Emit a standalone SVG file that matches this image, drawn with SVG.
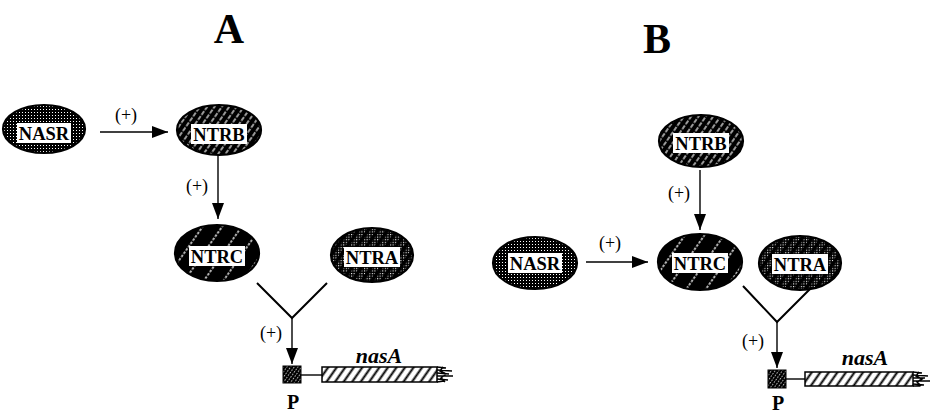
<svg xmlns="http://www.w3.org/2000/svg" width="932" height="415" viewBox="0 0 932 415">
  <defs>
    <style>
      .title { font-family: "Liberation Serif", "DejaVu Serif", serif; font-weight: bold; font-size: 42px; fill: #000; text-anchor: middle; }
      .lbl { font-family: "Liberation Serif", "DejaVu Serif", serif; font-weight: bold; font-size: 18.5px; fill: #000; text-anchor: middle; }
      .plus { font-family: "Liberation Serif", "DejaVu Serif", serif; font-size: 18px; fill: #000; text-anchor: middle; }
      .gene { font-family: "Liberation Serif", "DejaVu Serif", serif; font-weight: bold; font-style: italic; font-size: 22px; fill: #000; text-anchor: middle; }
      .prom { font-family: "Liberation Serif", "DejaVu Serif", serif; font-weight: bold; font-size: 20px; fill: #000; text-anchor: middle; }
      .edge { fill: none; stroke: #000; stroke-width: 1.4; }
      .arm { fill: none; stroke: #000; stroke-width: 2; }
      .rim { fill: none; stroke: #000; stroke-width: 2.2; }
      .tag { fill: #fff; }
    </style>
    <!-- fine white stipple on black -->
    <pattern id="stip" width="3" height="3" patternUnits="userSpaceOnUse">
      <rect width="3" height="3" fill="#000"/>
      <rect x="1" y="1" width="1" height="1" fill="#fff"/>
    </pattern>
    <!-- dense dashed white hatching on black -->
    <pattern id="hatchD" width="6" height="6" patternUnits="userSpaceOnUse" patternTransform="rotate(35)">
      <rect width="6" height="6" fill="#000"/>
      <line x1="3" y1="0" x2="3" y2="6" stroke="#fff" stroke-width="1.2" stroke-dasharray="2.5 1.5"/>
    </pattern>
    <!-- sparse dashed white hatching on black -->
    <pattern id="hatchS" width="16" height="8" patternUnits="userSpaceOnUse" patternTransform="rotate(35)">
      <rect width="16" height="8" fill="#000"/>
      <line x1="8" y1="0" x2="8" y2="8" stroke="#fff" stroke-width="1.4" stroke-dasharray="2.5 1.5"/>
    </pattern>
    <!-- checker stipple for the mixed fill -->
    <pattern id="chk" width="2.6" height="2.6" patternUnits="userSpaceOnUse">
      <rect width="2.6" height="2.6" fill="#000"/>
      <rect width="1.1" height="1.1" fill="#fff"/>
    </pattern>
    <!-- dark diagonal bands laid over the checker -->
    <pattern id="bands" width="8" height="8" patternUnits="userSpaceOnUse" patternTransform="rotate(35)">
      <rect x="0" y="0" width="3.5" height="8" fill="#000"/>
    </pattern>
    <!-- black hatching on white for the gene bar -->
    <pattern id="geneH" width="7" height="7" patternUnits="userSpaceOnUse" patternTransform="rotate(35)">
      <rect width="7" height="7" fill="#fff"/>
      <line x1="3.5" y1="0" x2="3.5" y2="7" stroke="#000" stroke-width="2"/>
    </pattern>
    <!-- promoter block -->
    <pattern id="promH" width="3" height="3" patternUnits="userSpaceOnUse" patternTransform="rotate(35)">
      <rect width="3" height="3" fill="#000"/>
      <rect x="1" y="0" width="0.8" height="1.5" fill="#fff"/>
    </pattern>
    <marker id="ah" viewBox="0 0 16 12" refX="16" refY="6" markerWidth="16" markerHeight="12" markerUnits="userSpaceOnUse" orient="auto">
      <path d="M0,0 L16,6 L0,12 z" fill="#000"/>
    </marker>
  </defs>

  <rect width="932" height="415" fill="#fff"/>

  <text class="title" x="229" y="43">A</text>
  <text class="title" x="657" y="53">B</text>

  <!-- Panel A nodes -->
  <g id="a-nasr">
    <ellipse cx="44" cy="129" rx="41" ry="24" fill="url(#stip)"/>
    <ellipse class="rim" cx="44" cy="129" rx="41" ry="24"/>
    <rect class="tag" x="17" y="123" width="54" height="20"/>
    <text class="lbl" x="44" y="139.5">NASR</text>
  </g>
  <g id="a-ntrb">
    <ellipse cx="219" cy="130" rx="42" ry="25" fill="url(#hatchD)"/>
    <ellipse class="rim" cx="219" cy="130" rx="42" ry="25"/>
    <rect class="tag" x="191" y="124" width="56" height="20"/>
    <text class="lbl" x="219" y="140.5">NTRB</text>
  </g>
  <g id="a-ntrc">
    <ellipse cx="217" cy="253" rx="42" ry="28" fill="url(#hatchS)"/>
    <ellipse class="rim" cx="217" cy="253" rx="42" ry="28"/>
    <rect class="tag" x="189" y="246" width="56" height="20"/>
    <text class="lbl" x="217" y="262.5">NTRC</text>
  </g>
  <g id="a-ntra">
    <ellipse cx="372" cy="255" rx="41" ry="27" fill="url(#chk)"/>
    <ellipse cx="372" cy="255" rx="41" ry="27" fill="url(#bands)"/>
    <ellipse class="rim" cx="372" cy="255" rx="41" ry="27"/>
    <rect class="tag" x="344" y="247" width="56" height="20"/>
    <text class="lbl" x="372" y="263.5">NTRA</text>
  </g>
  <g id="a-gene">
    <rect x="283" y="366" width="18" height="17" fill="url(#promH)" stroke="#000" stroke-width="1"/>
    <rect x="322" y="367" width="115" height="15" fill="url(#geneH)" stroke="#000" stroke-width="1.5"/>
    <path d="M437,367 L446,368 M437,370 L452,371 M437,373 L449,374 M437,376 L453,376 M437,379 L448,380 M437,382 L444,381 M443,367 L440,371 L446,374 L441,378 L445,382" fill="none" stroke="#000" stroke-width="1.5"/>
    <text class="gene" x="379" y="363">nasA</text>
    <text class="prom" x="293" y="409">P</text>
  </g>

  <!-- Panel B nodes -->
  <g id="b-nasr">
    <ellipse cx="535" cy="263" rx="42" ry="26" fill="url(#stip)"/>
    <ellipse class="rim" cx="535" cy="263" rx="42" ry="26"/>
    <rect class="tag" x="508" y="253" width="54" height="20"/>
    <text class="lbl" x="535" y="269.5">NASR</text>
  </g>
  <g id="b-ntrb">
    <ellipse cx="701" cy="141" rx="42" ry="26" fill="url(#hatchD)"/>
    <ellipse class="rim" cx="701" cy="141" rx="42" ry="26"/>
    <rect class="tag" x="673" y="133" width="56" height="20"/>
    <text class="lbl" x="701" y="149.5">NTRB</text>
  </g>
  <g id="b-ntrc">
    <ellipse cx="700" cy="262" rx="42" ry="28" fill="url(#hatchS)"/>
    <ellipse class="rim" cx="700" cy="262" rx="42" ry="28"/>
    <rect class="tag" x="672" y="253" width="56" height="20"/>
    <text class="lbl" x="700" y="269.5">NTRC</text>
  </g>
  <g id="b-ntra">
    <ellipse cx="800" cy="263" rx="41" ry="27" fill="url(#chk)"/>
    <ellipse cx="800" cy="263" rx="41" ry="27" fill="url(#bands)"/>
    <ellipse class="rim" cx="800" cy="263" rx="41" ry="27"/>
    <rect class="tag" x="772" y="254" width="56" height="20"/>
    <text class="lbl" x="800" y="270.5">NTRA</text>
  </g>
  <g id="b-gene">
    <rect x="768" y="370" width="18" height="18" fill="url(#promH)" stroke="#000" stroke-width="1"/>
    <rect x="805" y="372" width="108" height="14" fill="url(#geneH)" stroke="#000" stroke-width="1.5"/>
    <path d="M913,372 L922,373 M913,375 L928,376 M913,378 L925,378 M913,381 L930,381 M913,384 L924,385 M913,386 L920,386 M919,372 L916,376 L922,379 L917,382 L921,386" fill="none" stroke="#000" stroke-width="1.5"/>
    <text class="gene" x="865" y="365">nasA</text>
    <text class="prom" x="778" y="410">P</text>
  </g>

  <!-- Connectors -->
  <g id="connectors">
    <line class="edge" x1="100" y1="132" x2="168" y2="132" marker-end="url(#ah)"/>
    <text class="plus" x="126" y="121">(+)</text>
    <line class="edge" x1="218" y1="155" x2="218" y2="219" marker-end="url(#ah)"/>
    <text class="plus" x="197" y="192">(+)</text>
    <polyline class="arm" points="257,283 292,318 327,283"/>
    <line class="edge" x1="292" y1="318" x2="292" y2="364" marker-end="url(#ah)"/>
    <text class="plus" x="271" y="339">(+)</text>
    <line class="edge" x1="301" y1="375" x2="322" y2="375"/>

    <line class="edge" x1="586" y1="262" x2="648" y2="262" marker-end="url(#ah)"/>
    <text class="plus" x="610" y="249">(+)</text>
    <line class="edge" x1="700" y1="170" x2="700" y2="230" marker-end="url(#ah)"/>
    <text class="plus" x="679" y="199">(+)</text>
    <polyline class="arm" points="743,286 777,322 812,287"/>
    <line class="edge" x1="777" y1="322" x2="777" y2="368" marker-end="url(#ah)"/>
    <text class="plus" x="753" y="347">(+)</text>
    <line class="edge" x1="786" y1="379" x2="805" y2="379"/>
  </g>
</svg>
